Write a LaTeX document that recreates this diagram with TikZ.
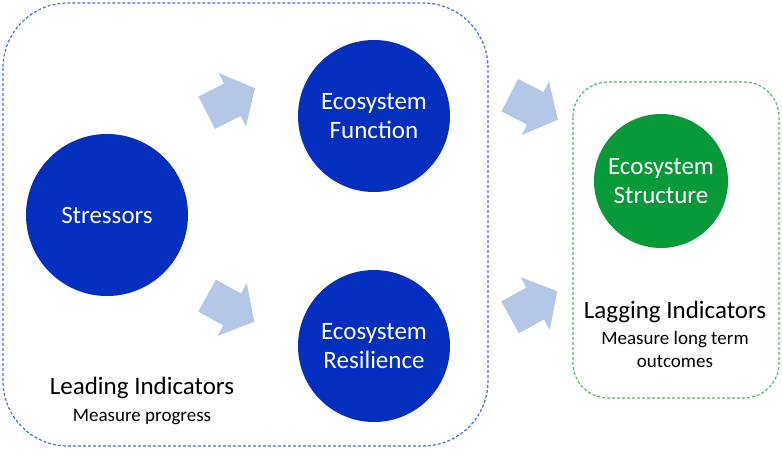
\documentclass[tikz,border=0pt]{standalone}
\usepackage{fontspec}
\setmainfont{Carlito}
\usepackage{tikz}
\usetikzlibrary{positioning, shapes.arrows}
\definecolor{circblue}{RGB}{4,46,190}
\definecolor{circgreen}{RGB}{8,153,56}
\definecolor{arrowblue}{RGB}{180,199,231}
\definecolor{boxblue}{RGB}{68,114,210}
\definecolor{boxgreen}{RGB}{84,185,100}

\begin{document}
\begin{tikzpicture}[
    x=1pt, y=-1pt,
    node distance=100pt,
    on grid,
    bubble/.style={circle, fill=circblue, text=white, minimum size=152pt, inner sep=0pt, align=center, font=\fontsize{25}{29}\selectfont},
    caption/.style={font=\fontsize{25}{29}\selectfont},
    subcap/.style={font=\fontsize{19}{23}\selectfont, align=center},
    arrowblk/.style={single arrow, fill=arrowblue, inner xsep=0pt, inner ysep=18pt, minimum height=54pt, single arrow head extend=12pt, single arrow tip angle=100},
    groupbox/.style={dash pattern=on 3pt off 2pt, line width=1.2pt}
]
  \useasboundingbox (0,0) rectangle (782,454);

  % Dashed group frames
  \draw[groupbox, boxblue, rounded corners=65pt] (3,3) rectangle (488,446);
  \draw[groupbox, boxgreen, rounded corners=35pt] (573,82) rectangle (779,398);

  % Circles
  \node[bubble, minimum size=162pt] (stress) at (107,215) {Stressors};
  \node[bubble] (func)  [above right=99pt and 267pt of stress] {Ecosystem\\Function};
  \node[bubble] (resil) [below=230pt of func] {Ecosystem\\Resilience};
  \node[bubble, fill=circgreen, minimum size=134pt] (struct) [below right=65pt and 287pt of func] {Ecosystem\\Structure};

  % Block arrows
  \node[arrowblk, rotate=27]  (a1) at (224,104) {};
  \node[arrowblk, rotate=-29] (a2) at (224,305) {};
  \node[arrowblk, rotate=-27] (a3) at (527,104) {};
  \node[arrowblk, rotate=29]  (a4) at (527,308) {};

  % Captions
  \node[caption] (leadtitle) at (142,388) {Leading Indicators};
  \node[subcap] (leadsub) [below=29pt of leadtitle] {Measure progress};
  \node[caption] (lagtitle) at (675,312) {Lagging Indicators};
  \node[subcap] (lagsub) [below=37pt of lagtitle] {Measure long term\\outcomes};
\end{tikzpicture}
\end{document}
